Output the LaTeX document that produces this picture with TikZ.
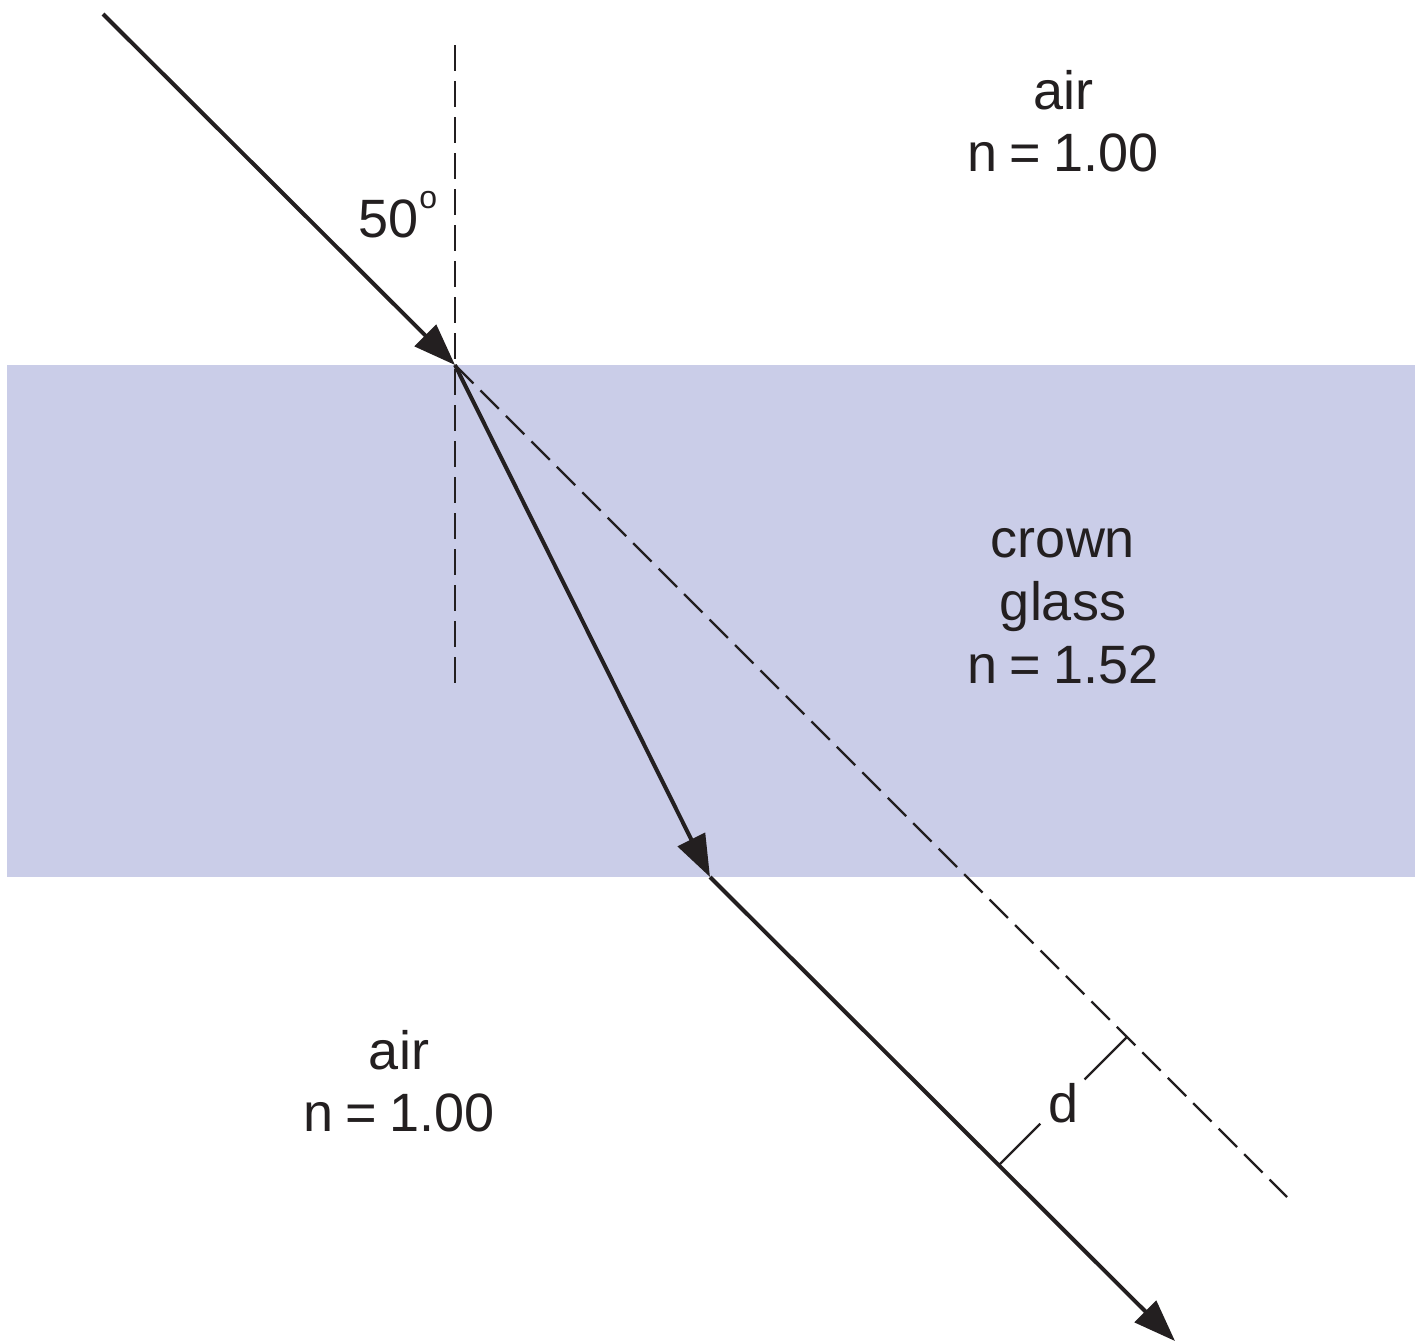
\documentclass[tikz,border=0pt]{standalone}
\usepackage{fontspec}
\setmainfont{Liberation Sans}
\usetikzlibrary{arrows.meta,calc}
\definecolor{glassfill}{RGB}{202,205,232}
\definecolor{ink}{RGB}{35,31,32}
\newcommand{\eqsp}{\hspace{0.23em}}
\tikzset{
  ray/.style={draw=ink, line width=4pt, -{Triangle[length=42pt,width=30pt]}},
  guide/.style={draw=ink, line width=2.2pt, dash pattern=on 26pt off 10pt},
  dline/.style={draw=ink, line width=2.4pt},
  lbl/.style={text=ink, font=\fontsize{54}{54}\selectfont, inner sep=0pt, anchor=base}
}
\begin{document}
\begin{tikzpicture}[x=1pt,y=-1pt]
\useasboundingbox (0,0) rectangle (1420,1341);
\fill[glassfill] (7,365) rectangle (1415,877);
\coordinate (S) at (103,14);
\coordinate (P1) at (455,365);
\coordinate (P2) at (710,877);
\coordinate (E) at (1175,1341);
\coordinate (NT) at (455,45);
\coordinate (NB) at (455,685);
\coordinate (DE) at (1287,1197);
\coordinate (D1) at (1127,1037);
\coordinate (D2) at (998.5,1165.5);
\draw[guide] (NT) -- (NB);
\draw[guide] (P1) -- (DE);
\draw[ray] (S) -- (P1);
\draw[ray] (P1) -- (P2);
\draw[ray] (P2) -- (E);
\draw[dline] (D1) -- ($(D1)!0.33!(D2)$);
\draw[dline] ($(D1)!0.675!(D2)$) -- (D2);
\node[lbl] (air1) at (1063,109) {air};
\node[lbl] (n1) at (1063,171) {n\eqsp=\eqsp1.00};
\node[lbl] (crown) at (1063,557) {crown};
\node[lbl] (glass) at (1063,620) {glass};
\node[lbl] (n2) at (1063,683) {n\eqsp=\eqsp1.52};
\node[lbl] (air2) at (399,1069) {air};
\node[lbl] (n3) at (399,1131) {n\eqsp=\eqsp1.00};
\node[lbl, anchor=base west] (ang) at (358,237) {50\hspace{1pt}\raisebox{29pt}{\fontsize{32}{32}\selectfont o}};
\node[lbl] (d) at (1063,1122) {d};
\end{tikzpicture}
\end{document}
